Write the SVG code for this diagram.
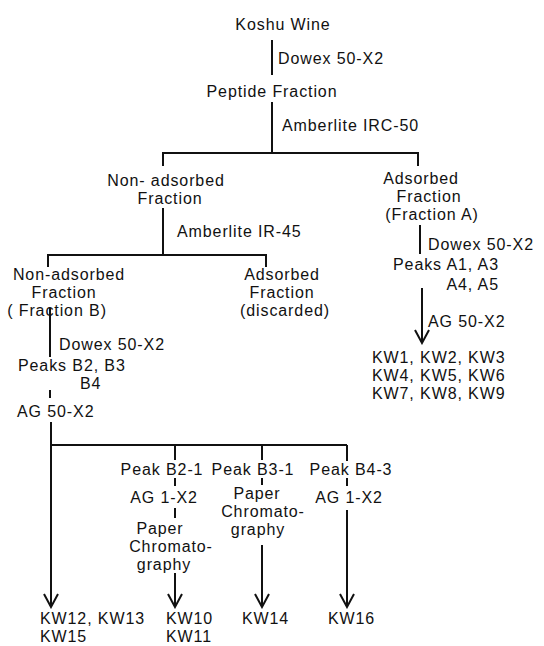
<svg xmlns="http://www.w3.org/2000/svg" width="544" height="646" viewBox="0 0 544 646">
<style>
text{font-family:"Liberation Sans",Arial,sans-serif;font-size:16px;letter-spacing:0.9px;fill:#111}
.c{text-anchor:middle}
.e{text-anchor:end}
.ln{stroke:#111;stroke-width:2;fill:none}
</style>
<defs>
<marker id="arr" viewBox="-14 -9 16 18" markerWidth="16" markerHeight="18" refX="0" refY="0" orient="auto" markerUnits="userSpaceOnUse">
<path d="M-13,-7 L0,0 L-13,7" stroke="#111" stroke-width="2" fill="none"/>
</marker>
</defs>
<rect width="544" height="646" fill="#fff"/>
<g id="connectors" class="ln">
<line x1="272" y1="40" x2="272" y2="75"/>
<line x1="272" y1="102" x2="272" y2="153"/>
<polyline points="163,166 163,153 418,153 418,166"/>
<line x1="163" y1="208" x2="163" y2="255"/>
<polyline points="48,267 48,255 266,255 266,267"/>
<line x1="420" y1="225" x2="420" y2="254"/>
<line x1="422" y1="288" x2="422" y2="343" marker-end="url(#arr)"/>
<line x1="50" y1="308" x2="50" y2="357"/>
<line x1="50" y1="390" x2="50" y2="398"/>
<line x1="51" y1="422" x2="51" y2="607" marker-end="url(#arr)"/>
<polyline points="51,445 347,445"/>
<line x1="175" y1="445" x2="175" y2="460"/>
<line x1="262" y1="445" x2="262" y2="460"/>
<line x1="347" y1="445" x2="347" y2="461"/>
<line x1="175" y1="478" x2="175" y2="486"/>
<line x1="175" y1="508" x2="175" y2="518"/>
<line x1="175" y1="573" x2="175" y2="607" marker-end="url(#arr)"/>
<line x1="262" y1="478" x2="262" y2="485"/>
<line x1="262" y1="545" x2="262" y2="607" marker-end="url(#arr)"/>
<line x1="347" y1="478" x2="347" y2="486"/>
<line x1="347" y1="510" x2="347" y2="607" marker-end="url(#arr)"/>
</g>
<g id="koshu"><text class="c" x="283" y="30">Koshu Wine</text></g>
<g id="lbl-dowex1"><text x="278" y="64">Dowex 50-X2</text></g>
<g id="peptide"><text class="c" x="272" y="97">Peptide Fraction</text></g>
<g id="lbl-irc50"><text x="282" y="131">Amberlite IRC-50</text></g>
<g id="nonads1"><text class="c" x="166" y="186">Non- adsorbed</text><text class="c" x="170" y="204">Fraction</text></g>
<g id="lbl-ir45"><text x="177" y="237">Amberlite IR-45</text></g>
<g id="fracA"><text class="c" x="421" y="184">Adsorbed</text><text class="c" x="429" y="202">Fraction</text><text class="c" x="432" y="220">(Fraction A)</text></g>
<g id="lbl-dowexA"><text x="428" y="250">Dowex 50-X2</text></g>
<g id="peaksA"><text class="e" x="499" y="270">Peaks A1, A3</text><text class="e" x="499" y="290">A4, A5</text></g>
<g id="lbl-ag50A"><text x="428" y="327">AG 50-X2</text></g>
<g id="kwA"><text x="372" y="363">KW1, KW2, KW3</text><text x="372" y="381">KW4, KW5, KW6</text><text x="372" y="399">KW7, KW8, KW9</text></g>
<g id="fracB"><text class="c" x="69" y="280">Non-adsorbed</text><text class="c" x="64" y="298">Fraction</text><text class="c" x="57" y="316">( Fraction B)</text></g>
<g id="discarded"><text class="c" x="282" y="280">Adsorbed</text><text class="c" x="282" y="298">Fraction</text><text class="c" x="285" y="316">(discarded)</text></g>
<g id="lbl-dowexB"><text x="59" y="350">Dowex 50-X2</text></g>
<g id="peaksB"><text x="18" y="371">Peaks B2, B3</text><text x="80" y="389">B4</text></g>
<g id="lbl-ag50B"><text x="17" y="417">AG 50-X2</text></g>
<g id="peakB21"><text class="c" x="162" y="475">Peak B2-1</text></g>
<g id="peakB31"><text class="c" x="253" y="475">Peak B3-1</text></g>
<g id="peakB43"><text class="c" x="351" y="475">Peak B4-3</text></g>
<g id="lbl-ag1-1"><text class="c" x="164" y="503">AG 1-X2</text></g>
<g id="lbl-paper1"><text class="c" x="160" y="534">Paper</text><text class="c" x="171" y="552">Chromato-</text><text class="c" x="164" y="570">graphy</text></g>
<g id="lbl-paper2"><text class="c" x="257" y="499">Paper</text><text class="c" x="263" y="517">Chromato-</text><text class="c" x="258" y="535">graphy</text></g>
<g id="lbl-ag1-2"><text class="c" x="349" y="503">AG 1-X2</text></g>
<g id="kw12"><text x="40" y="624">KW12, KW13</text><text x="40" y="642">KW15</text></g>
<g id="kw10"><text x="166" y="624">KW10</text><text x="166" y="642">KW11</text></g>
<g id="kw14"><text x="242" y="624">KW14</text></g>
<g id="kw16"><text x="328" y="624">KW16</text></g>
</svg>
